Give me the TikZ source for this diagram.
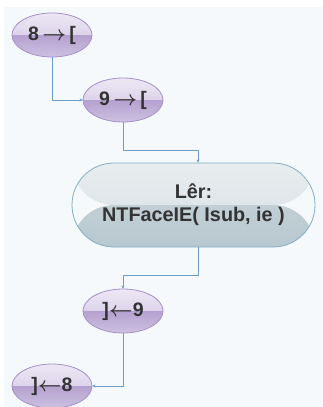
\documentclass[tikz,border=0pt]{standalone}
\usepackage{amsmath}
\usepackage{fontspec}
\setmainfont{Liberation Sans}
\usetikzlibrary{arrows.meta,shapes.geometric}

\definecolor{pagebg}{HTML}{F6F9FC}
\definecolor{flowline}{HTML}{6A9FCC}
\definecolor{ovalline}{HTML}{A590C9}
\definecolor{ovaltop}{HTML}{EDE8F4}
\definecolor{ovalmid}{HTML}{CDBFE2}
\definecolor{ovallow}{HTML}{B5A1CF}
\definecolor{ovalbot}{HTML}{CDC1E1}
\definecolor{boxline}{HTML}{82AFC2}
\definecolor{boxtop}{HTML}{E8EDEF}
\definecolor{boxmid}{HTML}{D6DFE3}
\definecolor{boxlow}{HTML}{C2CFD5}
\definecolor{boxbot}{HTML}{B8C8D0}
\definecolor{txt}{HTML}{333333}

\tikzset{
    oval/.style={draw=ovalline,line width=0.8pt,ellipse,minimum width=80pt,minimum height=44pt,inner sep=0pt,
        font=\fontsize{19.5}{22}\selectfont\bfseries,text=txt,
        path picture={
            \shade[top color=ovaltop,bottom color=ovalmid]
                (path picture bounding box.north west) rectangle (path picture bounding box.east);
            \shade[top color=ovallow,bottom color=ovalbot]
                (path picture bounding box.west) rectangle (path picture bounding box.south east);
        }},
    terminal/.style={draw=boxline,line width=0.8pt,rectangle,rounded corners=41.9pt,minimum width=243pt,minimum height=84pt,
        font=\fontsize{19.8}{23}\selectfont\bfseries,text=txt,
        path picture={
            \shade[top color=boxtop,bottom color=boxmid]
                (path picture bounding box.north west) rectangle (path picture bounding box.east);
            \shade[top color=boxlow,bottom color=boxbot]
                (path picture bounding box.west) rectangle (path picture bounding box.south east);
        }},
    flow/.style={draw=flowline,line width=0.6pt,-{Stealth[length=3pt,width=3pt]}}
}
\newcommand{\rarr}{\,$\boldsymbol{\rightarrow}$\,}
\newcommand{\larr}{$\boldsymbol{\leftarrow}$}

\begin{document}
\begin{tikzpicture}[x=1pt,y=-1pt]
    \useasboundingbox (0,0) rectangle (323,407);
    \fill[pagebg] (4,7) rectangle (323,407);

    % nodes
    \node[oval] (n8a) at (52,35) {8\rarr[};
    \node[oval] (n9a) at (123,100) {9\rarr[};
    \node[terminal] (reader) at (193.5,205)
        {\raisebox{-4pt}{\begin{tabular}{@{}c@{}}Lêr:\\NTFaceIE( Isub, ie )\end{tabular}}};
    \node[oval] (n9b) at (123,311) {]\larr9};
    \node[oval] (n8b) at (52,386) {]\larr8};

    % connectors
    \draw[flow] (n8a.south) |- (n9a.west);
    \draw[flow] (n9a.south) -- ++(0,28) -| ([xshift=4.5pt]reader.north);
    \draw[flow] ([xshift=4.5pt]reader.south) -- ++(0,28) -| (n9b.north);
    \draw[flow] (n9b.south) |- (n8b.east);
\end{tikzpicture}
\end{document}
